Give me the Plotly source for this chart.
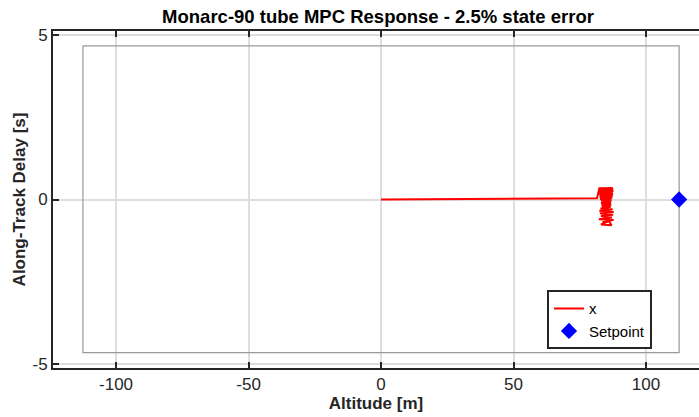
import plotly.graph_objects as go

# Trajectory data (Altitude [m], Along-Track Delay [s])
traj_x = [0, 20, 40, 60, 75, 81.5,
          82.4, 87.4, 82.2, 87.6, 82.5, 87.3, 82.3, 87.7, 82.4, 87.5,
          82.2, 87.4, 82.6, 87.6, 82.4, 87.2, 82.7, 87.5, 82.5, 87.1,
          82.8, 87.3, 82.6, 86.9, 83.0, 86.8, 83.2, 87.0, 83.3, 86.6,
          83.0, 86.8, 83.4, 86.5, 83.2, 86.9, 83.5, 86.4, 83.3, 86.7,
          82.8, 87.4, 82.4, 87.8, 82.6, 87.6, 83.0, 87.2, 82.2, 87.8,
          83.5, 86.5, 83.0, 87.0, 84.0, 85.5, 84.5, 85.0]
traj_y = [0, 0.008, 0.016, 0.024, 0.03, 0.035,
          0.34, 0.35, 0.31, 0.32, 0.28, 0.29, 0.25, 0.26, 0.22, 0.23,
          0.19, 0.20, 0.16, 0.17, 0.13, 0.14, 0.10, 0.11, 0.07, 0.08,
          0.04, 0.05, 0.01, 0.02, -0.02, -0.01, -0.05, -0.04, -0.08, -0.07,
          -0.11, -0.10, -0.14, -0.13, -0.17, -0.16, -0.20, -0.19, -0.23, -0.22,
          -0.27, -0.30, -0.34, -0.38, -0.42, -0.46, -0.50, -0.55, -0.60, -0.62,
          -0.70, -0.64, -0.76, -0.78, -0.40, -0.10, 0.20, 0.00]

setpoint_x = [112.5]
setpoint_y = [0]

box_x = [-112.5, 112.5, 112.5, -112.5, -112.5]
box_y = [4.67, 4.67, -4.65, -4.65, 4.67]

x_ticks = [-100, -50, 0, 50, 100]
y_ticks = [-5, 0, 5]

FONT = "Liberation Sans, Arial, sans-serif"
DARK = "#262626"

fig = go.Figure()
fig.add_trace(go.Scatter(x=box_x, y=box_y, mode="lines",
                         line=dict(color="#999999", width=1.2),
                         showlegend=False, hoverinfo="skip"))
fig.add_trace(go.Scatter(x=traj_x, y=traj_y, mode="lines", name="x",
                         line=dict(color="#ff0000", width=2)))
fig.add_trace(go.Scatter(x=setpoint_x, y=setpoint_y, mode="markers", name="Setpoint",
                         marker=dict(symbol="diamond", size=12.5, color="#0000ff",
                                     line=dict(width=0))))

fig.update_layout(
    width=699, height=417,
    margin=dict(l=53, r=0, t=31, b=49),
    paper_bgcolor="white", plot_bgcolor="white",
    font=dict(family=FONT, color=DARK, size=16),
    title=dict(text="<b>Monarc-90 tube MPC Response - 2.5% state error</b>",
               x=378 / 699, xanchor="center", y=1 - 17 / 417, yanchor="middle",
               font=dict(size=18.5, color="black", family=FONT)),
    legend=dict(x=(547 - 53) / 646, y=(367.7 - 290) / 336.7, xanchor="left", yanchor="top",
                bgcolor="white", bordercolor=DARK, borderwidth=2,
                font=dict(size=15, color="black", family=FONT),
                tracegroupgap=0, itemwidth=30),
)
fig.update_xaxes(range=[-123.8, 120.0], tickvals=x_ticks, ticktext=[str(v) for v in x_ticks],
                 showgrid=True, gridcolor="#dedede", gridwidth=1.5, zeroline=False,
                 showline=True, linecolor=DARK, linewidth=2, mirror="ticks",
                 ticks="inside", ticklen=6, tickcolor=DARK, tickwidth=2,
                 tickfont=dict(size=17, color=DARK),
                 title=dict(text="<b>Altitude [m]</b>", font=dict(size=17, color=DARK), standoff=4))
fig.update_yaxes(range=[-5.12, 5.12], tickvals=y_ticks, ticktext=[str(v) for v in y_ticks],
                 showgrid=True, gridcolor="#dedede", gridwidth=1.5, zeroline=False,
                 showline=True, linecolor=DARK, linewidth=2, mirror=False,
                 ticks="inside", ticklen=6, tickcolor=DARK, tickwidth=2,
                 tickfont=dict(size=17, color=DARK),
                 title=dict(text="<b>Along-Track Delay [s]</b>", font=dict(size=17, color=DARK), standoff=3))

fig.write_html("out.html")
